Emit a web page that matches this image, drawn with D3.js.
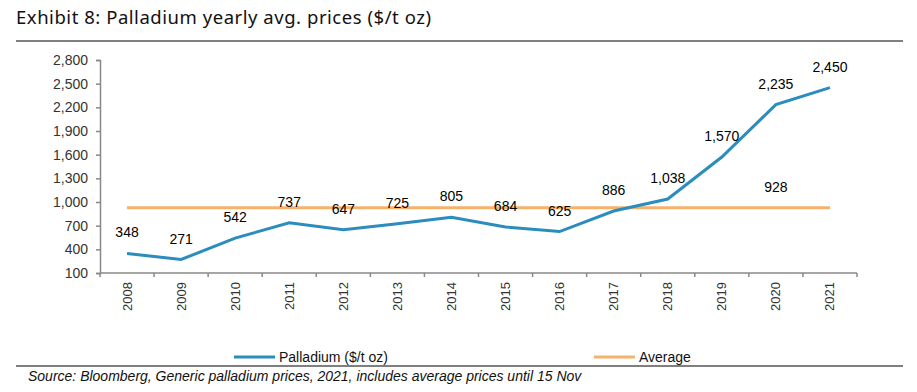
<!DOCTYPE html>
<html>
<head>
<meta charset="utf-8">
<script src="https://cdn.jsdelivr.net/npm/d3@7"></script>
<style>
  body { margin: 0; background: #fff; }
  svg text { font-family: "Liberation Sans", Arial, sans-serif; }
</style>
</head>
<body>
<div id="chart"></div>
<script>
const years = ['2008', '2009', '2010', '2011', '2012', '2013', '2014', '2015', '2016', '2017', '2018', '2019', '2020', '2021'];
const palladium = [348, 271, 542, 737, 647, 725, 805, 684, 625, 886, 1038, 1570, 2235, 2450];
const average = 928;
const yTicks = [100, 400, 700, 1000, 1300, 1600, 1900, 2200, 2500, 2800];

const width = 917;
const height = 392;
const plot = { left: 100, right: 857, top: 60, bottom: 273 };

const svg = d3
  .select('#chart')
  .append('svg')
  .attr('width', width)
  .attr('height', height);

// title and rules
svg
  .append('text')
  .attr('x', 16)
  .attr('y', 24)
  .attr('font-size', 18.5)
  .style('font-family', '"Noto Sans", "DejaVu Sans", sans-serif')
  .attr('textLength', 415)
  .attr('fill', '#111')
  .text('Exhibit 8: Palladium yearly avg. prices ($/t oz)');

svg.append('line').attr('x1', 16).attr('x2', 903).attr('y1', 41).attr('y2', 41).attr('stroke', '#000').attr('stroke-width', 1.2);
svg.append('line').attr('x1', 16).attr('x2', 903).attr('y1', 366).attr('y2', 366).attr('stroke', '#000').attr('stroke-width', 1.2);

const xScale = d3.scaleBand().domain(years).range([plot.left, plot.right]);
const yScale = d3.scaleLinear().domain([100, 2800]).range([plot.bottom, plot.top]);
const cx = (y) => xScale(y) + xScale.bandwidth() / 2;

// y axis
const yAxis = svg
  .append('g')
  .attr('transform', `translate(${plot.left},0)`)
  .call(d3.axisLeft(yScale).tickValues(yTicks).tickSize(4).tickPadding(8).tickFormat(d3.format(',')));
yAxis.select('.domain').attr('stroke', '#888').attr('stroke-width', 1.5);
yAxis.selectAll('.tick line').attr('stroke', '#888').attr('stroke-width', 1.5);
yAxis.selectAll('.tick text').attr('font-size', 14).attr('fill', '#333').style('font-family', '"Liberation Sans", Arial, sans-serif');

// x axis with ticks between categories
const xAxis = svg.append('g').attr('transform', `translate(0,${plot.bottom})`);
xAxis.append('line').attr('x1', plot.left).attr('x2', plot.right).attr('stroke', '#888').attr('stroke-width', 1.5);
xAxis
  .selectAll('.xtick')
  .data(years.concat(['end']))
  .enter()
  .append('line')
  .attr('x1', (d, i) => plot.left + i * xScale.step())
  .attr('x2', (d, i) => plot.left + i * xScale.step())
  .attr('y1', 0)
  .attr('y2', 4)
  .attr('stroke', '#888')
  .attr('stroke-width', 1.5);
xAxis
  .selectAll('.xlabel')
  .data(years)
  .enter()
  .append('text')
  .attr('transform', (d) => `translate(${cx(d) + 4.5},9) rotate(-90)`)
  .attr('text-anchor', 'end')
  .attr('font-size', 13)
  .attr('fill', '#333')
  .text((d) => d);

// average line
svg
  .append('line')
  .attr('x1', cx(years[0]))
  .attr('x2', cx(years[years.length - 1]))
  .attr('y1', yScale(average))
  .attr('y2', yScale(average))
  .attr('stroke', '#f6b26b')
  .attr('stroke-width', 3);

// palladium line
const line = d3
  .line()
  .x((d, i) => cx(years[i]))
  .y((d) => yScale(d));

svg
  .append('path')
  .datum(palladium)
  .attr('fill', 'none')
  .attr('stroke', '#2b8cbe')
  .attr('stroke-width', 3)
  .attr('d', line);

// data labels
svg
  .selectAll('.label')
  .data(palladium)
  .enter()
  .append('text')
  .attr('class', 'label')
  .attr('x', (d, i) => cx(years[i]))
  .attr('y', (d) => yScale(d) - 16)
  .attr('text-anchor', 'middle')
  .attr('font-size', 14)
  .attr('fill', '#000')
  .text((d) => d3.format(',')(d));

svg
  .append('text')
  .attr('x', cx('2020'))
  .attr('y', yScale(average) - 16)
  .attr('text-anchor', 'middle')
  .attr('font-size', 14)
  .attr('fill', '#000')
  .text(average);

// legend
const legend = [
  { name: 'Palladium ($/t oz)', color: '#2b8cbe', x: 234 },
  { name: 'Average', color: '#f6b26b', x: 594 }
];
const lg = svg.selectAll('.legend').data(legend).enter().append('g').attr('transform', (d) => `translate(${d.x},357)`);
lg.append('line').attr('x1', 0).attr('x2', 41).attr('stroke', (d) => d.color).attr('stroke-width', 3);
lg.append('text').attr('x', 45).attr('y', 5).attr('font-size', 14).attr('fill', '#111').text((d) => d.name);

// source
svg
  .append('text')
  .attr('x', 28)
  .attr('y', 381)
  .attr('font-size', 14)
  .attr('font-style', 'italic')
  .attr('fill', '#111')
  .text('Source: Bloomberg, Generic palladium prices, 2021, includes average prices until 15 Nov');
</script>
</body>
</html>
